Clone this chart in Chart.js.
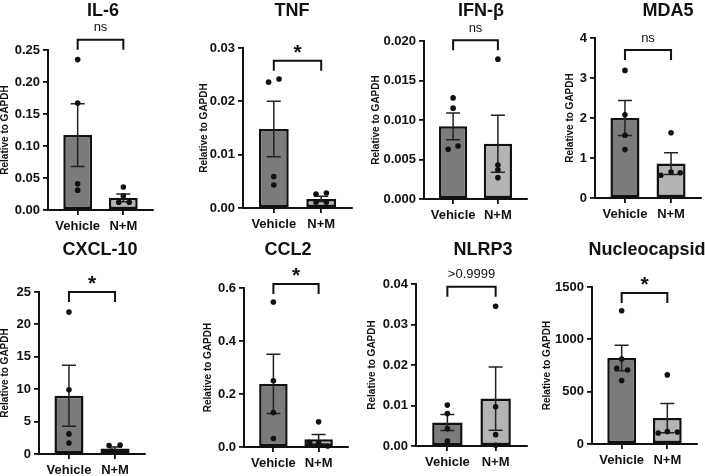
<!DOCTYPE html>
<html>
<head>
<meta charset="utf-8">
<script src="https://cdn.jsdelivr.net/npm/chart.js@4.4.0/dist/chart.umd.min.js"></script>
<style>
  html, body { margin: 0; padding: 0; background: #fff; width: 705px; height: 476px; overflow: hidden; }
  canvas { position: absolute; }
</style>
</head>
<body>
<script>
// data
const genes = ['IL-6', 'TNF', 'IFN-β', 'MDA5', 'CXCL-10', 'CCL2', 'NLRP3', 'Nucleocapsid'];
const groups = ['Vehicle', 'N+M'];
const vehicleMean = [0.117, 0.0148, 0.0092, 2.0, 9.0, 0.238, 0.0058, 822];
const vehicleSem = [0.049, 0.0052, 0.0017, 0.44, 4.7, 0.112, 0.0020, 122];
const nmMean = [0.019, 0.0017, 0.0070, 0.86, 0.85, 0.029, 0.0117, 248];
const nmSem = [0.006, 0.0005, 0.0036, 0.27, 0.24, 0.018, 0.0078, 140];
const vehiclePoints = [
    [0.235, 0.167, 0.041, 0.031],
    [0.0236, 0.0242, 0.0059, 0.0043],
    [0.0128, 0.0115, 0.0063, 0.0067],
    [3.19, 2.08, 1.57, 1.21],
    [21.9, 9.9, 3.1, 1.7],
    [0.547, 0.250, 0.130, 0.032],
    [0.0101, 0.0080, 0.0043, 0.0012],
    [1272, 812, 723, 707, 606]
];
const vehicleJitter = [
    [0, 0, 0, 0],
    [-0.11, 0.11, 0, 0],
    [0, 0, -0.11, 0.11],
    [0, 0, 0, 0],
    [0, 0, 0, 0],
    [0, 0, 0, 0],
    [0, 0, 0, 0],
    [0, 0, -0.11, 0.13, 0]
];
const nmPoints = [
    [0.036, 0.022, 0.012, 0.012],
    [0.0026, 0.0028, 0.0011, 0.0011],
    [0.0177, 0.0043, 0.0037, 0.0027],
    [1.63, 0.65, 0.57, 0.63],
    [1.3, 1.4, 0.45, 0.35],
    [0.095, 0.018, 0.015, 0.004],
    [0.0345, 0.0097, 0.0028, 0.0002],
    [660, 105, 120, 114]
];
const nmJitter = [
    [0, 0, -0.1, 0.13],
    [-0.11, 0.11, -0.11, 0.11],
    [0, 0, 0, 0],
    [0, 0, -0.22, 0.2],
    [-0.13, 0.11, -0.07, 0.15],
    [0, -0.2, 0, 0.2],
    [0, 0, 0, 0],
    [0, -0.2, 0, 0.22]
];
const yMax = [0.25, 0.03, 0.02, 4, 25, 0.6, 0.04, 1500];
const yStep = [0.05, 0.01, 0.005, 1, 5, 0.2, 0.01, 500];
const yDecimals = [2, 2, 3, 0, 0, 1, 2, 0];
const sigLabels = ['ns', '*', 'ns', 'ns', '*', '*', '>0.9999', '*'];
const bracketY = [0.266, 0.0276, 0.0201, 3.7, 25, 0.615, 0.0393, 1443];

// panel layout in page pixels
const axisLeft = [48, 243, 424, 595, 39, 244, 416, 592];
const axisTop = [50, 48, 41, 38, 292, 288, 284, 287];
const axisBottom = [210, 208, 199, 198, 454, 447, 446, 444];
const axisRight = [153, 352, 527, 702, 145, 348, 527, 697];
const yAxisWidth = [49, 45, 54, 31, 40, 42, 50, 51];
const titleX = [103, 292, 481, 668, 100, 288, 483, 647];
const titleY = [11, 11, 11, 11, 250, 250, 250, 250];
const rowTop = [0, 232];

const FONT = '"Liberation Sans", Arial, sans-serif';
Chart.defaults.font.family = FONT;
Chart.defaults.color = '#111';

const errorBars = {
    id: 'errorBars',
    afterDatasetDraw(chart, args, opts) {
        if (args.index !== 0) return;
        const i = opts.panel;
        const { ctx, scales: { x, y } } = chart;
        const means = [vehicleMean[i], nmMean[i]];
        const sems = [vehicleSem[i], nmSem[i]];
        ctx.save();
        ctx.strokeStyle = '#222';
        ctx.lineWidth = 1.5;
        means.forEach((m, g) => {
            const px = x.getPixelForValue(g);
            const hi = y.getPixelForValue(m + sems[g]);
            const lo = y.getPixelForValue(Math.max(0, m - sems[g]));
            ctx.beginPath();
            ctx.moveTo(px, hi); ctx.lineTo(px, lo);
            ctx.moveTo(px - 7, hi); ctx.lineTo(px + 7, hi);
            ctx.moveTo(px - 7, lo); ctx.lineTo(px + 7, lo);
            ctx.stroke();
        });
        ctx.restore();
    }
};

const annotations = {
    id: 'annotations',
    afterDraw(chart, args, opts) {
        const i = opts.panel;
        const { ctx, scales: { x, y } } = chart;
        const x0 = x.getPixelForValue(0), x1 = x.getPixelForValue(1);
        const by = y.getPixelForValue(bracketY[i]);
        ctx.save();
        ctx.strokeStyle = '#111';
        ctx.lineWidth = 2;
        ctx.beginPath();
        ctx.moveTo(x0, by + 10); ctx.lineTo(x0, by); ctx.lineTo(x1, by); ctx.lineTo(x1, by + 10);
        ctx.stroke();
        ctx.fillStyle = '#111';
        ctx.textAlign = 'center';
        const mid = (x0 + x1) / 2;
        if (sigLabels[i] === '*') {
            ctx.font = 'bold 21px ' + FONT;
            ctx.textBaseline = 'alphabetic';
            ctx.fillText('*', mid, by - 2);
        } else {
            ctx.font = '13px ' + FONT;
            ctx.textBaseline = 'middle';
            ctx.fillText(sigLabels[i], mid, by - 12);
        }
        ctx.font = 'bold 18px ' + FONT;
        ctx.textBaseline = 'middle';
        ctx.fillText(genes[i], titleX[i] - opts.left, titleY[i] - opts.top);
        ctx.restore();
    }
};

genes.forEach((gene, i) => {
    const row = i < 4 ? 0 : 1;
    const left = axisLeft[i] - yAxisWidth[i];
    const top = rowTop[row];
    const right = Math.min(705, axisRight[i] + 40);
    const bottom = axisBottom[i] + 30;

    const canvas = document.createElement('canvas');
    canvas.width = right - left;
    canvas.height = bottom - top;
    canvas.style.left = left + 'px';
    canvas.style.top = top + 'px';
    document.body.appendChild(canvas);

    const pointStyle = { pointRadius: 2.8, pointBackgroundColor: '#111', pointBorderWidth: 0, clip: false, order: 1 };

    new Chart(canvas, {
        type: 'bar',
        data: {
            datasets: [
                {
                    data: [{ x: 0, y: vehicleMean[i] }, { x: 1, y: nmMean[i] }],
                    backgroundColor: ['#7b7b7b', '#b4b4b4'],
                    borderColor: '#111',
                    borderWidth: 2.5,
                    borderSkipped: false,
                    barPercentage: 0.63,
                    categoryPercentage: 1,
                    order: 3
                },
                Object.assign({ type: 'scatter', data: vehiclePoints[i].map((v, k) => ({ x: vehicleJitter[i][k], y: v })) }, pointStyle),
                Object.assign({ type: 'scatter', data: nmPoints[i].map((v, k) => ({ x: 1 + nmJitter[i][k], y: v })) }, pointStyle)
            ]
        },
        options: {
            responsive: false,
            animation: false,
            devicePixelRatio: 1,
            layout: { padding: { left: 0, top: axisTop[i] - top, right: right - axisRight[i], bottom: 5 } },
            plugins: {
                legend: { display: false },
                tooltip: { enabled: false },
                errorBars: { panel: i },
                annotations: { panel: i, left: left, top: top }
            },
            scales: {
                x: {
                    type: 'linear',
                    min: -0.65,
                    max: 1.65,
                    offset: false,
                    afterBuildTicks: s => { s.ticks = [{ value: 0 }, { value: 1 }]; },
                    afterFit: s => { s.height = 25; },
                    ticks: { callback: v => groups[v], font: { size: 13, weight: 'bold' }, padding: 4, maxRotation: 0, autoSkip: false },
                    grid: { offset: false, drawOnChartArea: false, tickLength: 5, lineWidth: 1.8, color: '#111' },
                    border: { color: '#111', width: 2 }
                },
                y: {
                    min: 0,
                    max: yMax[i],
                    afterFit: s => { s.width = yAxisWidth[i]; },
                    ticks: { stepSize: yStep[i], callback: v => v.toFixed(yDecimals[i]), font: { size: 13, weight: 'bold' }, padding: 3 },
                    title: { display: true, text: 'Relative to GAPDH', font: { size: 10, weight: 'bold' }, padding: 0 },
                    grid: { drawOnChartArea: false, tickLength: 5, lineWidth: 1.8, color: '#111' },
                    border: { color: '#111', width: 2 }
                }
            }
        },
        plugins: [errorBars, annotations]
    });
});
</script>
</body>
</html>
